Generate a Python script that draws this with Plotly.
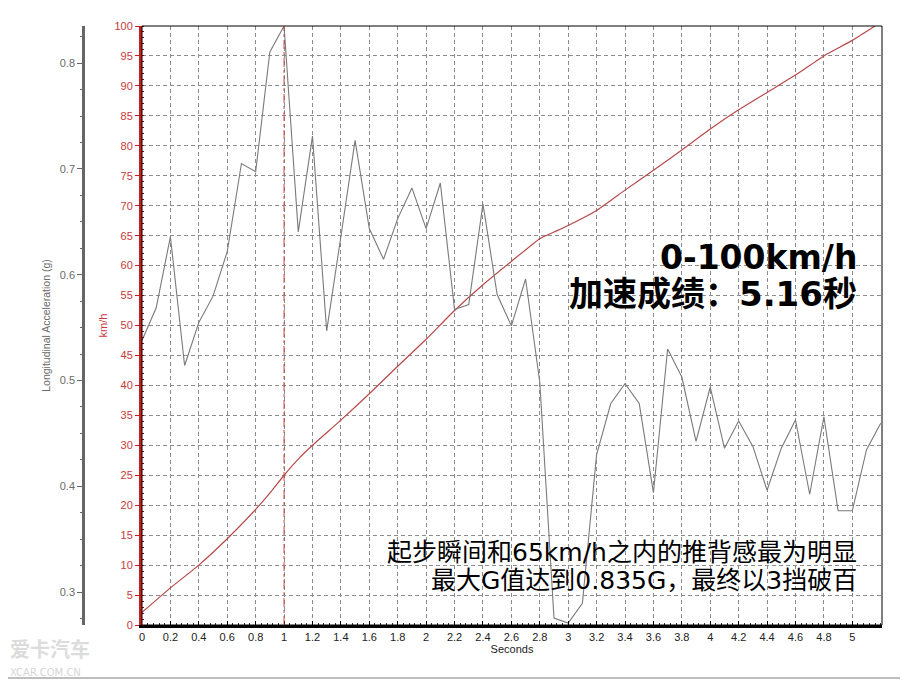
import plotly.graph_objects as go

# ---- data ----
time_accel = [0.0, 0.1, 0.2, 0.3, 0.4, 0.5, 0.6, 0.7, 0.8, 0.9,
              1.0, 1.1, 1.2, 1.3, 1.4, 1.5, 1.6, 1.7, 1.8, 1.9,
              2.0, 2.1, 2.2, 2.3, 2.4, 2.5, 2.6, 2.7, 2.8, 2.9,
              3.0, 3.1, 3.2, 3.3, 3.4, 3.5, 3.6, 3.7, 3.8, 3.9,
              4.0, 4.1, 4.2, 4.3, 4.4, 4.5, 4.6, 4.7, 4.8, 4.9,
              5.0, 5.1, 5.2]
accel_g = [0.5378, 0.5687, 0.6359, 0.5141, 0.5547, 0.5797, 0.6218, 0.7051, 0.6973, 0.8106,
           0.8351, 0.6405, 0.7310, 0.5469, 0.6361, 0.7270, 0.6436, 0.6146, 0.6530, 0.6820,
           0.6436, 0.6867, 0.5671, 0.5718, 0.6670, 0.5812, 0.5516, 0.5959, 0.4985, 0.2754,
           0.2707, 0.2894, 0.4299, 0.4782, 0.4969, 0.4782, 0.3939, 0.5297, 0.5032, 0.4423,
           0.4938, 0.4360, 0.4617, 0.4376, 0.3962, 0.4360, 0.4626, 0.3924, 0.4657, 0.3768,
           0.3768, 0.4345, 0.4595]

time_speed = [0, 0.2, 0.4, 0.6, 0.8, 0.9, 1.0, 1.1, 1.2, 1.4, 1.6, 1.8, 2.0, 2.2, 2.4, 2.6,
              2.8, 2.9, 3.0, 3.2, 3.4, 3.6, 3.8, 4.0, 4.2, 4.4, 4.6, 4.8, 5.0, 5.16]
speed_kmh = [2.1, 6.2, 10.0, 14.4, 19.3, 22.0, 25.0, 27.7, 30.0, 34.2, 38.6, 43.2, 47.7, 52.5,
             56.8, 60.7, 64.5, 65.6, 66.7, 69.2, 72.6, 75.9, 79.3, 82.8, 86.0, 88.9, 91.8,
             95.0, 97.6, 100.0]

x_tickvals = [0, 0.2, 0.4, 0.6, 0.8, 1, 1.2, 1.4, 1.6, 1.8, 2, 2.2, 2.4, 2.6, 2.8,
              3, 3.2, 3.4, 3.6, 3.8, 4, 4.2, 4.4, 4.6, 4.8, 5]
x_ticktext = ["0", "0.2", "0.4", "0.6", "0.8", "1", "1.2", "1.4", "1.6", "1.8", "2", "2.2",
              "2.4", "2.6", "2.8", "3", "3.2", "3.4", "3.6", "3.8", "4", "4.2", "4.4", "4.6",
              "4.8", "5"]
speed_tickvals = list(range(0, 101, 5))
g_tickvals = [0.3, 0.4, 0.5, 0.6, 0.7, 0.8]

title_line1 = "0-100km/h"
title_line2 = "加速成绩：5.16秒"
note_line1 = "起步瞬间和65km/h之内的推背感最为明显"
note_line2 = "最大G值达到0.835G，最终以3挡破百"

# ---- styling ----
RED_AXIS = "#c41e1e"
RED_TEXT = "#c83a3a"
RED_LINE = "#b84848"
GRAY_AXIS = "#666666"
GRID = "#8c8c8c"
TICK_FONT = "Liberation Sans, Arial, sans-serif"
CJK_FONT = "Noto Sans CJK SC, sans-serif"
MIX_FONT = "DejaVu Sans, Noto Sans CJK SC, sans-serif"

# page body has an 8px margin: figure is drawn from (8, 8) of the window
W, H = 900, 672
ML, MR, MT, MB = 32, 26, 12, 55
PW = W - ML - MR
PH = H - MT - MB
OFF = 8


def px_x(px):
    return (px - OFF - ML) / PW


def px_y(py):
    return (H - MB - (py - OFF)) / PH


fig = go.Figure()

fig.add_trace(go.Scatter(
    x=time_speed, y=speed_kmh, mode="lines", yaxis="y",
    line=dict(color=RED_LINE, width=1.2, shape="spline", smoothing=0.4),
    hoverinfo="skip", showlegend=False))

fig.add_trace(go.Scatter(
    x=time_accel, y=accel_g, mode="lines", yaxis="y2",
    line=dict(color="#7a7a7a", width=1.1), hoverinfo="skip", showlegend=False))

x0_dom = px_x(142)

fig.update_layout(
    width=W, height=H,
    margin=dict(l=ML, r=MR, t=MT, b=MB, pad=0),
    paper_bgcolor="white", plot_bgcolor="white",
    showlegend=False,
    xaxis=dict(
        domain=[x0_dom, 1], range=[0, 5.209],
        tickmode="array", tickvals=x_tickvals, ticktext=x_ticktext,
        showgrid=True, gridcolor=GRID, gridwidth=1, griddash="4px,3px",
        zeroline=False,
        showline=True, linecolor="black", linewidth=3,
        ticks="inside", ticklen=4, tickcolor="black",
        minor=dict(tickmode="linear", tick0=0, dtick=0.04, ticks="inside",
                   ticklen=2, tickcolor="#333333", showgrid=False),
        tickfont=dict(family=TICK_FONT, size=11, color="#222222"),
        title=dict(text="Seconds", font=dict(family=TICK_FONT, size=11, color="#222222"),
                   standoff=4),
        fixedrange=True,
    ),
    yaxis=dict(
        range=[0, 100], tickmode="array", tickvals=speed_tickvals,
        showgrid=True, gridcolor=GRID, gridwidth=1, griddash="4px,3px",
        zeroline=False,
        showline=True, linecolor=RED_AXIS, linewidth=3,
        ticks="outside", ticklen=4, tickcolor=RED_AXIS,
        minor=dict(tickmode="linear", tick0=0, dtick=1, ticks="inside",
                   ticklen=2, tickcolor="#7a1010", showgrid=False),
        tickfont=dict(family=TICK_FONT, size=11, color=RED_TEXT),
        title=dict(text="km/h", font=dict(family=TICK_FONT, size=11, color=RED_TEXT),
                   standoff=5),
        fixedrange=True,
    ),
    yaxis2=dict(
        overlaying="y", anchor="free", side="left", position=px_x(83),
        range=[0.2688, 0.8351], tickmode="array", tickvals=g_tickvals,
        showgrid=False, zeroline=False,
        showline=True, linecolor=GRAY_AXIS, linewidth=2.5,
        ticks="outside", ticklen=5, tickcolor=GRAY_AXIS,
        minor=dict(tickmode="linear", tick0=0, dtick=0.025, ticks="outside",
                   ticklen=2, tickcolor=GRAY_AXIS),
        tickfont=dict(family=TICK_FONT, size=11, color="#6a6a6a"),
        title=dict(text="Longitudinal Acceleration (g)",
                   font=dict(family=TICK_FONT, size=10.5, color="#6a6a6a"),
                   standoff=6),
        fixedrange=True,
    ),
)

shapes = [
    # plot frame (thin black top/right)
    dict(type="rect", xref="x domain", yref="y domain", x0=0, x1=1, y0=0, y1=1,
         line=dict(color="black", width=1), layer="above"),
    # red dash-dot marker at 1 s
    dict(type="line", xref="x", yref="y domain", x0=1, x1=1, y0=0, y1=1,
         line=dict(color="#c04848", width=1, dash="dashdot"), layer="above"),
    # outer picture frame lines
    dict(type="line", xref="paper", yref="paper", x0=px_x(905), x1=px_x(905),
         y0=px_y(8), y1=px_y(680), line=dict(color="#a8a8a8", width=1.5)),
    dict(type="line", xref="paper", yref="paper", x0=px_x(8), x1=px_x(908),
         y0=px_y(678.5), y1=px_y(678.5), line=dict(color="#a8a8a8", width=1.5)),
]
fig.update_layout(shapes=shapes)

big_font1 = dict(family=MIX_FONT, size=33, color="black", weight="bold")
big_font2 = dict(family=MIX_FONT, size=34, color="black", weight="bold")
note_font = dict(family=MIX_FONT, size=25, color="black")

annotations = [
    dict(text=title_line1, x=px_x(859), y=px_y(254), xref="paper", yref="paper",
         xanchor="right", yanchor="middle", showarrow=False, font=big_font1),
    dict(text=title_line2, x=px_x(859), y=px_y(291), xref="paper", yref="paper",
         xanchor="right", yanchor="middle", showarrow=False, font=big_font2),
    dict(text=note_line1, x=px_x(859), y=px_y(552), xref="paper", yref="paper",
         xanchor="right", yanchor="middle", showarrow=False, font=note_font),
    dict(text=note_line2, x=px_x(859), y=px_y(580), xref="paper", yref="paper",
         xanchor="right", yanchor="middle", showarrow=False, font=note_font),
    # watermark
    dict(text="爱卡汽车", x=px_x(8), y=px_y(649), xref="paper", yref="paper",
         xanchor="left", yanchor="middle", showarrow=False,
         font=dict(family=CJK_FONT, size=20, color="#dcdcdc", weight="bold")),
    dict(text="XCAR.COM.CN", x=px_x(8), y=px_y(672.5), xref="paper", yref="paper",
         xanchor="left", yanchor="middle", showarrow=False,
         font=dict(family="DejaVu Sans, sans-serif", size=10, color="#d6d6d6")),
]
fig.update_layout(annotations=annotations)

fig.write_html("out.html")
